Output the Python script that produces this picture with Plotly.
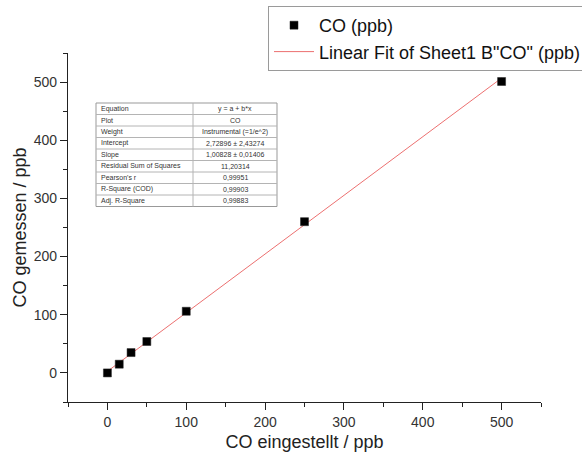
import plotly.graph_objects as go

# Calibration data: set CO concentration vs. measured CO concentration (ppb)
co_set = [0, 15, 30, 50, 100, 250, 500]
co_measured = [0, 15, 35, 54, 106, 260, 501]

# Linear fit parameters (y = a + b*x)
fit_intercept = 2.72896
fit_slope = 1.00828

# Fit statistics table
stat_names = ["Equation", "Plot", "Weight", "Intercept", "Slope",
              "Residual Sum of Squares", "Pearson's r", "R-Square (COD)", "Adj. R-Square"]
stat_values = ["y = a + b*x", "CO", "Instrumental (=1/e^2)", "2,72896 ± 2,43274",
               "1,00828 ± 0,01406", "11,20314", "0,99951", "0,99903", "0,99883"]

fit_x = [min(co_set), max(co_set)]
fit_y = [fit_intercept + fit_slope * v for v in fit_x]

font_family = "Liberation Sans, Arial, sans-serif"

W, H = 582, 457
M_L, M_R, M_T, M_B = 68, 41, 53, 55
PLOT_W = W - M_L - M_R
PLOT_H = H - M_T - M_B


def px_to_paper(px, py):
    """Convert page pixel position to paper coordinates."""
    return (px - M_L) / PLOT_W, 1 - (py - M_T) / PLOT_H


fig = go.Figure()

fig.add_trace(go.Scatter(
    x=fit_x, y=fit_y, mode="lines", name='Linear Fit of Sheet1 B"CO" (ppb)',
    line=dict(color="#ec7070", width=1), legendrank=2,
))
fig.add_trace(go.Scatter(
    x=co_set, y=co_measured, mode="markers", name="CO (ppb)",
    marker=dict(symbol="square", size=8, color="#000000",
                line=dict(color="#222222", width=0.5)),
    legendrank=1,
))

# Fit-statistics table built from shapes and text
tbl_left, tbl_mid, tbl_right = 96, 193, 277
tbl_top, row_h = 103, 11.5
n_rows = len(stat_names)
shapes = []
annotations = []
grid_color = "#b4b4b4"

x0, y0 = px_to_paper(tbl_left, tbl_top)
x1, y1 = px_to_paper(tbl_right, tbl_top + n_rows * row_h)
shapes.append(dict(type="rect", xref="paper", yref="paper", x0=x0, y0=y1, x1=x1, y1=y0,
                   line=dict(color="#999999", width=1), fillcolor="white", layer="above"))
xm, _ = px_to_paper(tbl_mid, tbl_top)
shapes.append(dict(type="line", xref="paper", yref="paper", x0=xm, x1=xm, y0=y1, y1=y0,
                   line=dict(color=grid_color, width=1), layer="above"))
for i in range(1, n_rows):
    _, yy = px_to_paper(tbl_left, tbl_top + i * row_h)
    shapes.append(dict(type="line", xref="paper", yref="paper", x0=x0, x1=x1, y0=yy, y1=yy,
                       line=dict(color=grid_color, width=1), layer="above"))

for i, (name, val) in enumerate(zip(stat_names, stat_values)):
    _, yc = px_to_paper(tbl_left, tbl_top + (i + 0.5) * row_h)
    xl, _ = px_to_paper(tbl_left + 3, 0)
    xc, _ = px_to_paper((tbl_mid + tbl_right) / 2, 0)
    annotations.append(dict(text=name, xref="paper", yref="paper", x=xl, y=yc,
                            xanchor="left", yanchor="middle", showarrow=False,
                            font=dict(size=7, color="#333333", family=font_family)))
    annotations.append(dict(text=val, xref="paper", yref="paper", x=xc, y=yc,
                            xanchor="center", yanchor="middle", showarrow=False,
                            font=dict(size=7, color="#333333", family=font_family)))

axis_common = dict(
    showline=True, linecolor="#222222", linewidth=1.3,
    ticks="outside", ticklen=7, tickwidth=1.2, tickcolor="#222222",
    showgrid=False, zeroline=False, mirror=False,
    tickfont=dict(size=14, color="#333333", family=font_family),
    minor=dict(ticks="outside", ticklen=4, tickwidth=1.1, tickcolor="#222222",
               dtick=50, showgrid=False),
)

fig.update_xaxes(
    range=[-50, 550], dtick=100, tick0=0,
    title=dict(text="CO eingestellt / ppb", standoff=6,
               font=dict(size=18, color="#222222", family=font_family)),
    **axis_common,
)
fig.update_yaxes(
    range=[-50, 550], dtick=100, tick0=0,
    title=dict(text="CO gemessen / ppb", standoff=2,
               font=dict(size=18, color="#222222", family=font_family)),
    **axis_common,
)

lx, ly = px_to_paper(268, 6)
fig.update_layout(
    width=W, height=H,
    margin=dict(l=M_L, r=M_R, t=M_T, b=M_B, autoexpand=False),
    paper_bgcolor="white", plot_bgcolor="white",
    font=dict(family=font_family),
    showlegend=True,
    shapes=shapes,
    annotations=annotations,
    legend=dict(
        x=lx, y=ly, xanchor="left", yanchor="top",
        bgcolor="white", bordercolor="#9a9a9a", borderwidth=1,
        font=dict(size=18, color="#111111", family=font_family),
        itemwidth=40, tracegroupgap=0,
    ),
)

fig.write_html("out.html")
